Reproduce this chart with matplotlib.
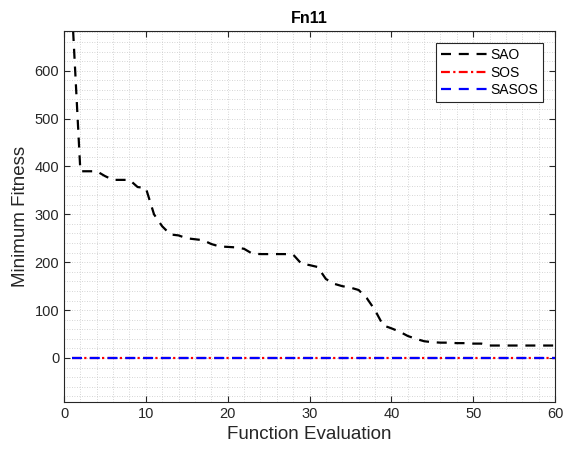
import matplotlib.pyplot as plt
import numpy as np
from matplotlib.ticker import MultipleLocator

plt.rcParams['font.family'] = ['Liberation Sans', 'DejaVu Sans']

# function evaluations and best fitness found so far
evals = np.arange(1, 61)
sao = [720, 390, 390, 390, 380, 372, 372, 372, 357, 355,
       300, 275, 258, 256, 250, 248, 246, 238, 233, 232,
       231, 228, 218, 217, 217, 217, 217, 216, 197, 194,
       190, 165, 155, 150, 147, 142, 125, 100, 68, 62,
       55, 46, 40, 35, 33, 32, 32, 31, 31, 30,
       30, 26, 26, 26, 26, 26, 26, 26, 26, 26]
sos = [0] * 60
sasos = [0] * 60

dark = '#262626'

fig = plt.figure(figsize=(5.63, 4.51), dpi=100)
ax = fig.add_axes([0.1137, 0.1086, 0.8721, 0.8227])

ax.plot(evals, sao, color='black', ls=(0, (4.5, 3.5)), lw=1.6, label='SAO')
ax.plot(evals, sos, color='red', ls=(0, (4, 1.5, 1, 1.5)), lw=1.6, label='SOS')
ax.plot(evals, sasos, color='blue', ls=(0, (4.5, 3.5)), lw=1.6, label='SASOS')

ax.set_xlim(0, 60)
ax.set_ylim(-92, 683)
ax.xaxis.set_major_locator(MultipleLocator(10))
ax.xaxis.set_minor_locator(MultipleLocator(2))
ax.yaxis.set_major_locator(MultipleLocator(100))
ax.yaxis.set_minor_locator(MultipleLocator(20))
ax.grid(which='both', color='#c8c8c8', ls=(0, (1, 2)), lw=0.6)
ax.tick_params(which='major', direction='in', top=True, right=True, length=4,
               labelsize=10.5, colors=dark)
ax.tick_params(which='minor', length=0)
for s in ax.spines.values():
    s.set_color(dark)
    s.set_linewidth(0.8)

ax.set_title('Fn11', fontsize=11.5, fontweight='bold', pad=6)
ax.set_xlabel('Function Evaluation', fontsize=13.5, color=dark)
ax.set_ylabel('Minimum Fitness', fontsize=13.5, color=dark)

leg = ax.legend(loc='upper right', fontsize=10, fancybox=False, framealpha=1,
                edgecolor=dark, handlelength=3.4, handletextpad=0.15,
                borderaxespad=0.9, labelspacing=0.25, borderpad=0.35)
leg.get_frame().set_linewidth(0.8)

fig.savefig('out.png', dpi=100)
